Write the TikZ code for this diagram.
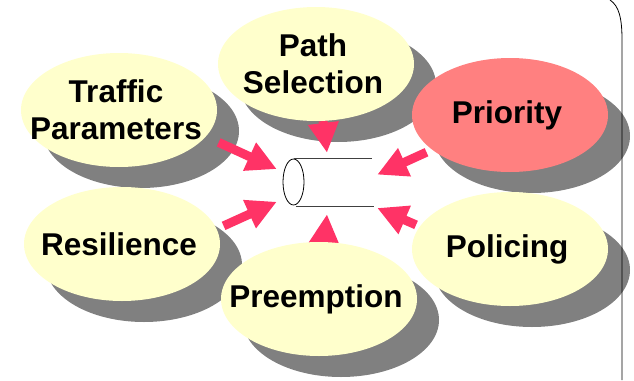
\documentclass[tikz,border=0pt]{standalone}
\usepackage{fontspec}
\setmainfont{Liberation Sans}
\usepackage{tikz}
\usetikzlibrary{shapes.geometric,arrows.meta,positioning,backgrounds,calc}
\tikzset{every node/.append style={align=center}}
\definecolor{bubblecolor}{RGB}{255, 255, 204}
\definecolor{prioritycolor}{RGB}{255, 128, 128}
\definecolor{shadowcolor}{RGB}{128, 128, 128}
\definecolor{pushcolor}{RGB}{255, 51, 102}

\begin{document}
\begin{tikzpicture}[
    x=1pt, y=-1pt,
    bubble/.style={ellipse, fill=bubblecolor, minimum width=196pt, minimum height=114pt, inner sep=0pt,
        label={[bubbletext]center:#1}},
    bubbletext/.style={xshift=-3pt, inner sep=0pt, font=\fontsize{31.5}{37}\selectfont\bfseries},
    bubbleshadow/.style={fill=shadowcolor},
    push/.style={-{Triangle[length=30pt, width=29pt]}, line width=9pt, draw=pushcolor},
    pipeend/.style={ellipse, draw, line width=0.8pt, minimum width=21pt, minimum height=46pt, inner sep=0pt},
    pipeline/.style={draw=black!75, line width=0.8pt},
    hub/.style={rectangle, minimum width=100pt, minimum height=61pt, inner sep=0pt}
]
    \useasboundingbox (0,0) rectangle (634,380);

    % Bubbles
    \node[bubble={Traffic\\Parameters}] (traffic) at (119,110) {};
    \node[bubble={Path\\Selection}] (path) at (316,64) {};
    \node[bubble=Priority, fill=prioritycolor] (priority) at (510,115) {};
    \node[bubble=Resilience] (resilience) at (122,244) {};
    \node[bubble=Preemption] (preemption) at (319,299) {};
    \node[bubble=Policing] (policing) at (510,249) {};

    % Pipe
    \node[pipeend] (pipe) at (293.5,182) {};
    \draw[pipeline] (pipe.north) -- ++(78,0);
    \draw[pipeline] ([xshift=2pt, yshift=-1pt]pipe.south) -- ++(78,0);
    \node[hub] (hub) at (327,183.5) {};

    % Shadows and arrows behind the bubbles
    \begin{scope}[on background layer]
        \foreach \n in {traffic,path,priority,resilience,preemption,policing}
            \fill[bubbleshadow] ([shift={(22,21)}]\n.center) ellipse [x radius=98pt, y radius=57pt];
        \draw[push, shorten <=14pt] (traffic.-17.6) -- (hub.164);
        \draw[push, shorten <=7.5pt] (resilience.9.8) -- (hub.200.3);
        \draw[push, shorten <=6pt] (priority.-156) -- (hub.10.8);
        \draw[push, shorten <=4pt] (policing.166.8) -- (hub.-26);
        \draw[push] (path) -- (hub.north);
        \draw[push] (preemption) -- (hub.south);
    \end{scope}

    % Frame edge
    \draw[line width=0.8pt] (610,0) .. controls (619,6) and (622,18) .. (622,40) -- (622,380);
\end{tikzpicture}
\end{document}
